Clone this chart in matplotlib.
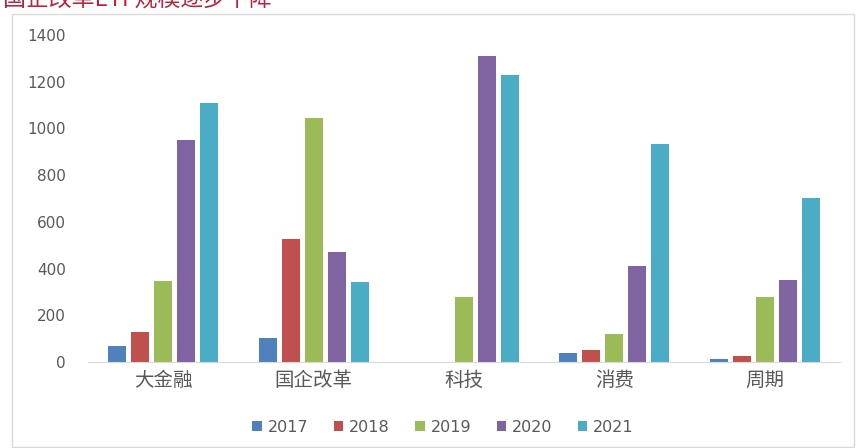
import numpy as np
import matplotlib
matplotlib.use('Agg')
import matplotlib.pyplot as plt
from matplotlib.patches import Patch, Rectangle

plt.rcParams['font.family'] = ['DejaVu Sans', 'Noto Sans CJK SC']

# 数据
categories = ['大金融', '国企改革', '科技', '消费', '周期']
years = ['2017', '2018', '2019', '2020', '2021']
v2017 = [70, 102, 0, 38, 13]
v2018 = [128, 526, 0, 52, 27]
v2019 = [345, 1044, 280, 122, 280]
v2020 = [952, 469, 1311, 412, 350]
v2021 = [1107, 341, 1229, 932, 704]
series = [v2017, v2018, v2019, v2020, v2021]
colors = ['#4F81BD', '#C0504D', '#9BBB59', '#8064A2', '#4BACC6']
title = '国企改革ETF规模逐步下降'

W, H = 860, 448
fig = plt.figure(figsize=(W / 100, H / 100), dpi=100)
ax = fig.add_axes([88 / W, 1 - 362 / H, (840 - 88) / W, (362 - 35) / H])

x = np.arange(len(categories))
pitch, bw = 0.153, 0.12
for i, (vals, c) in enumerate(zip(series, colors)):
    ax.bar(x + (i - 2) * pitch, vals, width=bw, color=c, label=years[i])

ax.set_xlim(-0.5, len(categories) - 0.5)
ax.set_ylim(0, 1400)
ax.set_yticks(np.arange(0, 1401, 200))
ax.set_xticks(x)
ax.set_xticklabels(categories, fontsize=14, color='#595959',
                   family=['Noto Sans CJK SC', 'DejaVu Sans'])
ax.tick_params(axis='y', length=0, pad=16, labelsize=11, labelcolor='#595959')
ax.tick_params(axis='x', length=0, pad=6)
for s in ['top', 'right', 'left']:
    ax.spines[s].set_visible(False)
ax.spines['bottom'].set_color('#D9D9D9')

# 外框
fig.patches.append(Rectangle((12 / W, 1 - 447 / H), (854 - 12) / W, (447 - 14) / H,
                             transform=fig.transFigure, fill=False,
                             edgecolor='#D9D9D9', lw=1))

# 被裁切的标题
fig.text(3 / W, 1 - 0.5 / H, title, color='#B8243C', fontsize=16.5, va='center', ha='left',
         family=['Noto Sans CJK SC', 'DejaVu Sans'])

handles = [Patch(facecolor=c, label=y) for c, y in zip(colors, years)]
fig.legend(handles=handles, loc='center', bbox_to_anchor=(443 / W, 1 - 427 / H), ncol=5,
           frameon=False, fontsize=11.5, labelcolor='#595959', handlelength=0.6,
           handleheight=0.6, handletextpad=0.35, columnspacing=1.6)

fig.savefig('out.png', dpi=100)
